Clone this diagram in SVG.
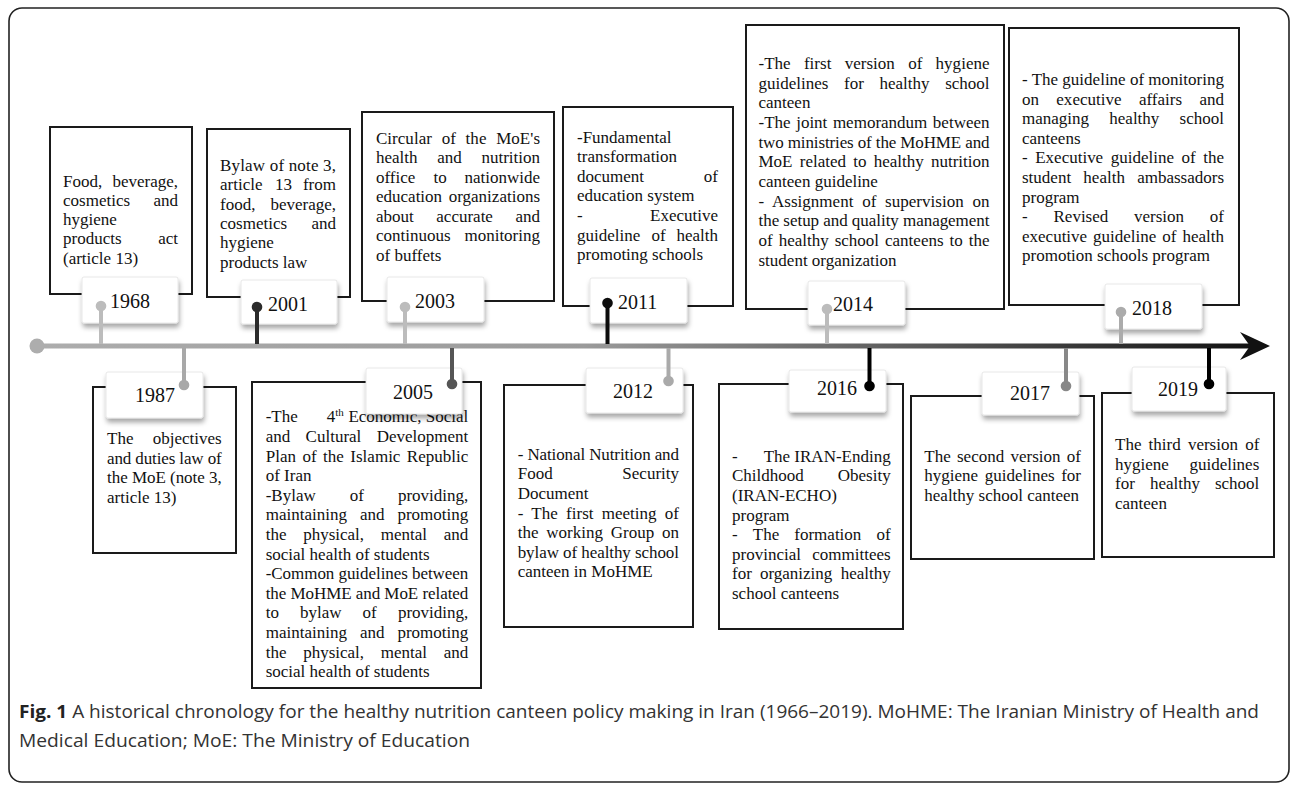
<svg xmlns="http://www.w3.org/2000/svg" width="1292" height="787" viewBox="0 0 1292 787">
<defs>
<filter id="sh" x="-20%" y="-20%" width="140%" height="160%">
<feDropShadow dx="1" dy="4" stdDeviation="2.5" flood-color="#000" flood-opacity="0.35"/>
</filter>
<linearGradient id="lg" gradientUnits="userSpaceOnUse" x1="37" y1="0" x2="1255" y2="0">
<stop offset="0" stop-color="#adadad"/>
<stop offset="0.45" stop-color="#9a9a9a"/>
<stop offset="0.72" stop-color="#5a5a5a"/>
<stop offset="1" stop-color="#111"/>
</linearGradient>
<style>
.box{fill:#fff;stroke:#1a1a1a;stroke-width:2}
.tag{fill:#fff;stroke:#e2e2e2;stroke-width:0.8;filter:url(#sh)}
.t{font-family:"Liberation Serif","Times New Roman",serif;font-size:17px;fill:#111}
.e{text-anchor:end}
.yr{font-family:"Liberation Serif","Times New Roman",serif;font-size:20px;fill:#111}
.stem{stroke-width:4;fill:none}
.cap{font-family:"Open Sans","Liberation Sans",sans-serif;font-size:18px;fill:#333}
</style>
</defs>
<rect x="9" y="8" width="1280" height="774" rx="13" fill="#fff" stroke="#222" stroke-width="1.6"/>

<g id="n1968">
<rect class="box" x="50" y="127" width="142" height="167"/>
<text class="t" x="63" y="186.5">Food,</text><text class="t e" x="178" y="186.5">beverage,</text>
<text class="t" x="63" y="205.8">cosmetics</text><text class="t e" x="178" y="205.8">and</text>
<text class="t" x="63" y="225.1">hygiene</text>
<text class="t" x="63" y="244.4">products</text><text class="t e" x="178" y="244.4">act</text>
<text class="t" x="63" y="263.7">(article 13)</text>
<rect class="tag" x="82" y="277" width="96" height="46" rx="2"/>
<text class="yr" x="110" y="308">1968</text>
</g>

<g id="n2001">
<rect class="box" x="207" y="129" width="143" height="168"/>
<text class="t" x="220" y="171" textLength="116" lengthAdjust="spacing">Bylaw of note 3,</text>
<text class="t" x="220" y="190.3">article</text><text class="t" x="275" y="190.3">13</text><text class="t e" x="336" y="190.3">from</text>
<text class="t" x="220" y="209.6">food,</text><text class="t e" x="336" y="209.6">beverage,</text>
<text class="t" x="220" y="228.9">cosmetics</text><text class="t e" x="336" y="228.9">and</text>
<text class="t" x="220" y="248.2">hygiene</text>
<text class="t" x="220" y="267.5">products law</text>
<rect class="tag" x="241" y="280" width="96" height="44" rx="2"/>
<text class="yr" x="268" y="311">2001</text>
</g>

<g id="n2003">
<rect class="box" x="362" y="112" width="192" height="189"/>
<text class="t" x="376" y="143.5" textLength="164" lengthAdjust="spacing" style="word-spacing:5.5px">Circular of the MoE's</text>
<text class="t" x="376" y="163">health</text><text class="t" x="437.2" y="163">and</text><text class="t e" x="540" y="163">nutrition</text>
<text class="t" x="376" y="182.5">office</text><text class="t" x="433.5" y="182.5">to</text><text class="t e" x="540" y="182.5">nationwide</text>
<text class="t" x="376" y="202">education</text><text class="t e" x="540" y="202">organizations</text>
<text class="t" x="376" y="221.5">about</text><text class="t" x="436.3" y="221.5">accurate</text><text class="t e" x="540" y="221.5">and</text>
<text class="t" x="376" y="241">continuous</text><text class="t e" x="540" y="241">monitoring</text>
<text class="t" x="376" y="260.5">of buffets</text>
<rect class="tag" x="387" y="277" width="97" height="45" rx="2"/>
<text class="yr" x="415" y="307.5">2003</text>
</g>

<g id="n2011">
<rect class="box" x="563" y="107" width="170" height="199"/>
<text class="t" x="577" y="142.5">-Fundamental</text>
<text class="t" x="577" y="162.1">transformation</text>
<text class="t" x="577" y="181.7">document</text><text class="t e" x="718" y="181.7">of</text>
<text class="t" x="577" y="201.3">education system</text>
<text class="t" x="577" y="220.9">-</text><text class="t e" x="718" y="220.9">Executive</text>
<text class="t" x="577" y="240.5">guideline</text><text class="t" x="651.5" y="240.5">of</text><text class="t e" x="718" y="240.5">health</text>
<text class="t" x="577" y="260.1">promoting schools</text>
<rect class="tag" x="590" y="278" width="97" height="45" rx="2"/>
<text class="yr" x="618" y="309">2011</text>
</g>

<g id="n2014">
<rect class="box" x="746" y="25" width="258" height="284"/>
<text class="t" x="758.5" y="69" textLength="231" lengthAdjust="spacing" style="word-spacing:9px">-The first version of hygiene</text>
<text class="t" x="758.5" y="88.65" textLength="231" lengthAdjust="spacing" style="word-spacing:11.4px">guidelines for healthy school</text>
<text class="t" x="758.5" y="108.3">canteen</text>
<text class="t" x="758.5" y="127.95" textLength="231" lengthAdjust="spacing" style="word-spacing:1.3px">-The joint memorandum between</text>
<text class="t" x="758.5" y="147.6" textLength="231" lengthAdjust="spacing">two ministries of the MoHME and</text>
<text class="t" x="758.5" y="167.25" textLength="231" lengthAdjust="spacing" style="word-spacing:3px">MoE related to healthy nutrition</text>
<text class="t" x="758.5" y="186.9">canteen guideline</text>
<text class="t" x="758.5" y="206.55" textLength="231" lengthAdjust="spacing" style="word-spacing:4.4px">- Assignment of supervision on</text>
<text class="t" x="758.5" y="226.2" textLength="231" lengthAdjust="spacing">the setup and quality management</text>
<text class="t" x="758.5" y="245.85" textLength="231" lengthAdjust="spacing" style="word-spacing:1.7px">of healthy school canteens to the</text>
<text class="t" x="758.5" y="265.5">student organization</text>
<rect class="tag" x="808" y="281" width="97" height="44" rx="2"/>
<text class="yr" x="833" y="311">2014</text>
</g>

<g id="n2018">
<rect class="box" x="1009" y="28" width="230" height="277"/>
<text class="t" x="1022" y="85" textLength="202" lengthAdjust="spacing">- The guideline of monitoring</text>
<text class="t" x="1022" y="104.6" textLength="202" lengthAdjust="spacing" style="word-spacing:13px">on executive affairs and</text>
<text class="t" x="1022" y="124.2" textLength="202" lengthAdjust="spacing" style="word-spacing:16px">managing healthy school</text>
<text class="t" x="1022" y="143.8">canteens</text>
<text class="t" x="1022" y="163.4" textLength="202" lengthAdjust="spacing" style="word-spacing:3.3px">- Executive guideline of the</text>
<text class="t" x="1022" y="183" textLength="202" lengthAdjust="spacing" style="word-spacing:8px">student health ambassadors</text>
<text class="t" x="1022" y="202.6">program</text>
<text class="t" x="1022" y="222.2">-</text><text class="t" x="1053.5" y="222.2">Revised</text><text class="t" x="1134" y="222.2">version</text><text class="t e" x="1224" y="222.2">of</text>
<text class="t" x="1022" y="241.8" textLength="202" lengthAdjust="spacing" style="word-spacing:1.7px">executive guideline of health</text>
<text class="t" x="1022" y="261.4">promotion schools program</text>
<rect class="tag" x="1105" y="284" width="97" height="45" rx="2"/>
<text class="yr" x="1132" y="315">2018</text>
</g>

<g id="n1987">
<rect class="box" x="93" y="387" width="143" height="166"/>
<text class="t" x="107" y="444">The</text><text class="t e" x="221.7" y="444">objectives</text>
<text class="t" x="107" y="463.6" textLength="114.7" lengthAdjust="spacing">and duties law of</text>
<text class="t" x="107" y="483.2" textLength="114.7" lengthAdjust="spacing">the MoE (note 3,</text>
<text class="t" x="107" y="502.8">article 13)</text>
<rect class="tag" x="106" y="372" width="97" height="46" rx="2"/>
<text class="yr" x="135" y="402">1987</text>
</g>

<g id="n2005">
<rect class="box" x="252" y="382" width="229" height="306"/>
<text class="t" x="265.7" y="422.3">-The</text><text class="t" x="326.7" y="422.3">4<tspan dy="-6" font-size="11">th</tspan></text><text class="t e" x="468.3" y="422.3">Economic, Social</text>
<text class="t" x="265.7" y="441.9">and</text><text class="t" x="305.6" y="441.9">Cultural</text><text class="t e" x="468.3" y="441.9">Development</text>
<text class="t" x="265.7" y="461.5" textLength="202.6" lengthAdjust="spacing" style="word-spacing:2.2px">Plan of the Islamic Republic</text>
<text class="t" x="265.7" y="481.1">of Iran</text>
<text class="t" x="265.7" y="500.7">-Bylaw</text><text class="t" x="349.7" y="500.7">of</text><text class="t e" x="468.3" y="500.7">providing,</text>
<text class="t" x="265.7" y="520.3">maintaining</text><text class="t" x="360" y="520.3">and</text><text class="t e" x="468.3" y="520.3">promoting</text>
<text class="t" x="265.7" y="539.9">the</text><text class="t" x="303.2" y="539.9">physical,</text><text class="t" x="380.8" y="539.9">mental</text><text class="t e" x="468.3" y="539.9">and</text>
<text class="t" x="265.7" y="559.5">social health of students</text>
<text class="t" x="265.7" y="579.1" textLength="202.6" lengthAdjust="spacing">-Common guidelines between</text>
<text class="t" x="265.7" y="598.7" textLength="202.6" lengthAdjust="spacing">the MoHME and MoE related</text>
<text class="t" x="265.7" y="618.3">to</text><text class="t" x="300" y="618.3">bylaw</text><text class="t" x="362.6" y="618.3">of</text><text class="t e" x="468.3" y="618.3">providing,</text>
<text class="t" x="265.7" y="637.9">maintaining</text><text class="t" x="360" y="637.9">and</text><text class="t e" x="468.3" y="637.9">promoting</text>
<text class="t" x="265.7" y="657.5">the</text><text class="t" x="303.2" y="657.5">physical,</text><text class="t" x="380.8" y="657.5">mental</text><text class="t e" x="468.3" y="657.5">and</text>
<text class="t" x="265.7" y="677.1">social health of students</text>
<rect class="tag" x="366" y="368" width="96" height="46" rx="2"/>
<text class="yr" x="393" y="398.5">2005</text>
</g>

<g id="n2012">
<rect class="box" x="504" y="385" width="189" height="242"/>
<text class="t" x="517.7" y="459.7" textLength="161.3" lengthAdjust="spacing">- National Nutrition and</text>
<text class="t" x="517.7" y="479.3">Food</text><text class="t e" x="679" y="479.3">Security</text>
<text class="t" x="517.7" y="498.9">Document</text>
<text class="t" x="517.7" y="518.5" textLength="161.3" lengthAdjust="spacing" style="word-spacing:4px">- The first meeting of</text>
<text class="t" x="517.7" y="538.1" textLength="161.3" lengthAdjust="spacing" style="word-spacing:3.5px">the working Group on</text>
<text class="t" x="517.7" y="557.7" textLength="161.3" lengthAdjust="spacing">bylaw of healthy school</text>
<text class="t" x="517.7" y="577.3">canteen in MoHME</text>
<rect class="tag" x="586" y="368" width="97" height="45" rx="2"/>
<text class="yr" x="613" y="397.5">2012</text>
</g>

<g id="n2016">
<rect class="box" x="719" y="384" width="184" height="245"/>
<text class="t" x="732" y="461.7">-</text><text class="t e" x="890.7" y="461.7">The IRAN-Ending</text>
<text class="t" x="732" y="481.3">Childhood</text><text class="t e" x="890.7" y="481.3">Obesity</text>
<text class="t" x="732" y="500.9">(IRAN-ECHO)</text>
<text class="t" x="732" y="520.5">program</text>
<text class="t" x="732" y="540.1">-</text><text class="t" x="752.8" y="540.1">The</text><text class="t" x="794.3" y="540.1">formation</text><text class="t e" x="890.7" y="540.1">of</text>
<text class="t" x="732" y="559.7">provincial</text><text class="t e" x="890.7" y="559.7">committees</text>
<text class="t" x="732" y="579.3">for</text><text class="t" x="759.9" y="579.3">organizing</text><text class="t e" x="890.7" y="579.3">healthy</text>
<text class="t" x="732" y="598.9">school canteens</text>
<rect class="tag" x="789" y="370" width="97" height="42" rx="2"/>
<text class="yr" x="817" y="395">2016</text>
</g>

<g id="n2017">
<rect class="box" x="911" y="396" width="183" height="163"/>
<text class="t" x="924.3" y="461.7" textLength="156.7" lengthAdjust="spacing" style="word-spacing:2px">The second version of</text>
<text class="t" x="924.3" y="481.3" textLength="156.7" lengthAdjust="spacing" style="word-spacing:2.3px">hygiene guidelines for</text>
<text class="t" x="924.3" y="500.9">healthy school canteen</text>
<rect class="tag" x="982" y="372" width="97" height="43" rx="2"/>
<text class="yr" x="1010" y="400">2017</text>
</g>

<g id="n2019">
<rect class="box" x="1102" y="393" width="172" height="164"/>
<text class="t" x="1115" y="450" textLength="144.3" lengthAdjust="spacing" style="word-spacing:2.9px">The third version of</text>
<text class="t" x="1115" y="469.6">hygiene</text><text class="t e" x="1259.3" y="469.6">guidelines</text>
<text class="t" x="1115" y="489.2">for</text><text class="t" x="1149.9" y="489.2">healthy</text><text class="t e" x="1259.3" y="489.2">school</text>
<text class="t" x="1115" y="508.8">canteen</text>
<rect class="tag" x="1132" y="367" width="94" height="44" rx="2"/>
<text class="yr" x="1158" y="396">2019</text>
</g>

<g id="connectors">
<line x1="37" y1="346" x2="1252" y2="346" stroke="url(#lg)" stroke-width="5"/>
<circle cx="37" cy="346" r="7.5" fill="#adadad"/>
<path d="M1240,332 L1270,346 L1240,360 L1250,346 Z" fill="#111"/>
<g class="stem">
<path d="M101,306 V344" stroke="#bcbcbc"/><circle cx="101" cy="306" r="5.3" fill="#bcbcbc"/>
<path d="M257,307 V344" stroke="#2b2b2b"/><circle cx="257" cy="307" r="5.3" fill="#2b2b2b"/>
<path d="M405,307 V344" stroke="#bcbcbc"/><circle cx="405" cy="307" r="5.3" fill="#bcbcbc"/>
<path d="M607.5,303 V344" stroke="#0d0d0d"/><circle cx="607.5" cy="303" r="5.3" fill="#0d0d0d"/>
<path d="M827,309 V344" stroke="#bcbcbc"/><circle cx="827" cy="309" r="5.3" fill="#bcbcbc"/>
<path d="M1121,312 V344" stroke="#ababab"/><circle cx="1121" cy="312" r="5.3" fill="#ababab"/>
<path d="M184,348 V385" stroke="#a8a8a8"/><circle cx="184" cy="385" r="5.3" fill="#a8a8a8"/>
<path d="M452,348 V384" stroke="#555"/><circle cx="452" cy="384" r="5.3" fill="#555"/>
<path d="M668.5,348 V381" stroke="#aaa"/><circle cx="668.5" cy="381" r="5.3" fill="#aaa"/>
<path d="M869.5,348 V386" stroke="#000"/><circle cx="869.5" cy="386" r="5.3" fill="#000"/>
<path d="M1066,348 V386" stroke="#888"/><circle cx="1066" cy="386" r="5.3" fill="#888"/>
<path d="M1209,348 V384" stroke="#000"/><circle cx="1209" cy="384" r="5.3" fill="#000"/>
</g>
</g>

<g id="caption">
<text class="cap" x="19" y="718" textLength="1240" lengthAdjust="spacingAndGlyphs"><tspan font-weight="bold" fill="#222">Fig. 1</tspan> A historical chronology for the healthy nutrition canteen policy making in Iran (1966–2019). MoHME: The Iranian Ministry of Health and</text>
<text class="cap" x="19" y="747" textLength="451" lengthAdjust="spacingAndGlyphs">Medical Education; MoE: The Ministry of Education</text>
</g>
</svg>
